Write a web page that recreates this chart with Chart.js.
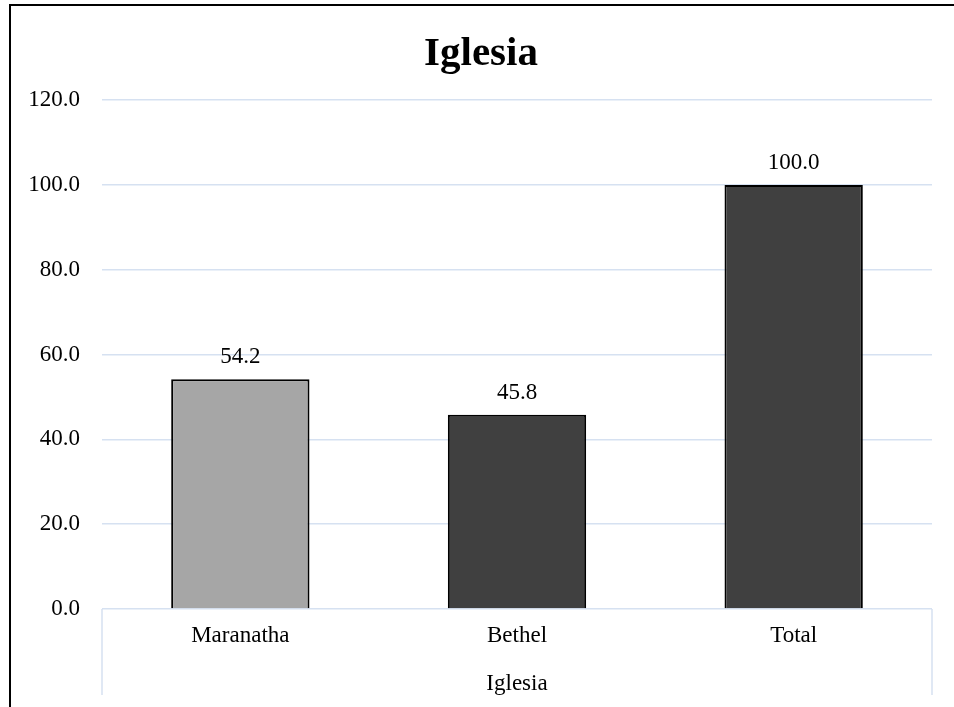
<!DOCTYPE html>
<html>
<head>
<meta charset="utf-8">
<script src="https://cdn.jsdelivr.net/npm/chart.js@4.4.1/dist/chart.umd.min.js"></script>
<style>
  html, body { margin: 0; padding: 0; background: #fff; }
  #wrap { width: 954px; height: 707px; }
</style>
</head>
<body>
<div id="wrap"><canvas id="chart" width="954" height="707"></canvas></div>
<script>
const categories = ["Maranatha", "Bethel", "Total"];
const values = [54.2, 45.8, 100.0];
const barColors = ["#a6a6a6", "#404040", "#404040"];
const yTicks = [0, 20, 40, 60, 80, 100, 120];

const serif = "'Liberation Serif', 'Times New Roman', serif";
const gridColor = "#d6e1f1";

// value labels above the bars
const valueLabels = {
  id: "valueLabels",
  afterDatasetsDraw(chart) {
    const ctx = chart.ctx;
    const meta = chart.getDatasetMeta(0);
    ctx.save();
    ctx.font = "23px " + serif;
    ctx.fillStyle = "#000";
    ctx.textAlign = "center";
    ctx.textBaseline = "middle";
    meta.data.forEach((bar, i) => {
      ctx.fillText(values[i].toFixed(1), bar.x, bar.y - 22);
    });
    ctx.restore();
  }
};

// outer frame and the box under the category axis
const frame = {
  id: "frame",
  afterDraw(chart) {
    const ctx = chart.ctx;
    const a = chart.chartArea;
    ctx.save();
    ctx.strokeStyle = gridColor;
    ctx.lineWidth = 1.5;
    ctx.beginPath();
    ctx.moveTo(a.left, a.bottom);
    ctx.lineTo(a.left, 695);
    ctx.moveTo(a.right, a.bottom);
    ctx.lineTo(a.right, 695);
    ctx.stroke();
    ctx.strokeStyle = "#000";
    ctx.lineWidth = 2;
    ctx.beginPath();
    ctx.moveTo(10, 707);
    ctx.lineTo(10, 5);
    ctx.lineTo(954, 5);
    ctx.stroke();
    ctx.restore();
  }
};

new Chart(document.getElementById("chart"), {
  type: "bar",
  data: {
    labels: categories,
    datasets: [{
      data: values,
      backgroundColor: barColors,
      borderColor: "#000",
      borderWidth: 2,
      borderSkipped: "bottom",
      categoryPercentage: 1.0,
      barPercentage: 0.5
    }]
  },
  options: {
    responsive: false,
    animation: false,
    layout: { padding: { left: 30, right: 22, top: 0, bottom: 12 } },
    plugins: {
      legend: { display: false },
      tooltip: { enabled: false },
      title: {
        display: true,
        text: "Iglesia",
        color: "#000",
        font: { family: serif, size: 41, weight: "bold" },
        padding: { top: 30, bottom: 21 }
      }
    },
    scales: {
      x: {
        grid: { display: false, drawTicks: false },
        border: { display: false },
        ticks: {
          color: "#000",
          font: { family: serif, size: 23 },
          padding: 13
        },
        title: {
          display: true,
          text: "Iglesia",
          color: "#000",
          font: { family: serif, size: 23 },
          padding: { top: 10, bottom: -3 }
        },
        afterFit(scale) { scale.height = 86; }
      },
      y: {
        min: 0,
        max: 120,
        afterBuildTicks(scale) { scale.ticks = yTicks.map(v => ({ value: v })); },
        grid: { color: gridColor, lineWidth: 1.5, drawTicks: false },
        border: { display: false },
        ticks: {
          color: "#000",
          font: { family: serif, size: 23 },
          padding: 22,
          callback: v => Number(v).toFixed(1)
        },
        afterFit(scale) { scale.width = 72; }
      }
    }
  },
  plugins: [valueLabels, frame]
});
</script>
</body>
</html>
